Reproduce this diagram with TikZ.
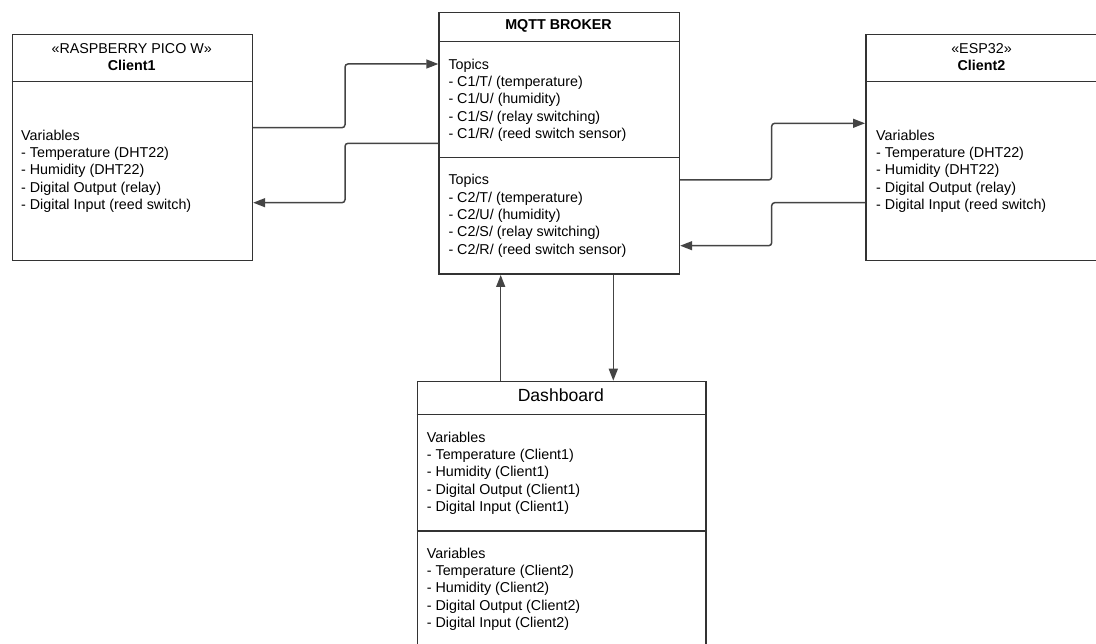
\documentclass[tikz,border=0pt]{standalone}
\usepackage{fontspec}
\setmainfont{Liberation Sans}
\usetikzlibrary{arrows.meta}
\definecolor{edge}{HTML}{333333}
\definecolor{wirecol}{HTML}{444444}
\begin{document}
\begin{tikzpicture}[x=1pt,y=-1pt,
  box/.style={draw=edge, line width=1.5pt, rectangle, inner sep=0pt, anchor=north west},
  sep/.style={draw=edge, line width=1.5pt},
  body/.style={anchor=north west, inner sep=0pt, align=left, font=\fontsize{14.3}{17.3}\selectfont},
  head/.style={inner sep=0pt, align=center, font=\fontsize{14.3}{17.3}\selectfont},
  wire/.style={draw=wirecol, line width=1.5pt, rounded corners=3pt, -{Triangle[length=12pt,width=9pt]}}
]
\useasboundingbox (0,0) rectangle (1096,644);

% class boxes
\node[box, minimum width=240pt, minimum height=226pt] (c1) at (11.7,34) {};
\node[box, minimum width=240.4pt, minimum height=261.5pt] (broker) at (438.3,12) {};
\node[box, minimum width=245pt, minimum height=226pt] (c2) at (865,34) {};
\node[box, minimum width=288.3pt, minimum height=280pt] (dash) at (416.7,380.7) {};

% compartment separators
\draw[sep] (c1.west |- 0,81.7) -- (c1.east |- 0,81.7);
\draw[sep] (c2.west |- 0,81.7) -- (c2.east |- 0,81.7);
\draw[sep] (broker.west |- 0,41.7) -- (broker.east |- 0,41.7);
\draw[sep] (broker.west |- 0,157.3) -- (broker.east |- 0,157.3);
\draw[sep] (dash.west |- 0,414.3) -- (dash.east |- 0,414.3);
\draw[sep] (dash.west |- 0,531) -- (dash.east |- 0,531);

% headers
\node[head] (c1h) at (131.7,57.3) {«RASPBERRY PICO W»\\\textbf{Client1}};
\node[head] (c2h) at (981.5,57.3) {«ESP32»\\\textbf{Client2}};
\node[head] (bh) at (558.5,25.5) {\textbf{MQTT BROKER}};
\node[inner sep=0pt, font=\fontsize{17.6}{20}\selectfont] (dh) at (560.8,395.5) {Dashboard};

% compartment texts
\node[body] (c1v) at (21,129.8) {Variables\\- Temperature (DHT22)\\- Humidity (DHT22)\\- Digital Output (relay)\\- Digital Input (reed switch)};
\node[body] (c2v) at (876,129.8) {Variables\\- Temperature (DHT22)\\- Humidity (DHT22)\\- Digital Output (relay)\\- Digital Input (reed switch)};
\node[body] (bt1) at (448.3,58.8) {Topics\\- C1/T/ (temperature)\\- C1/U/ (humidity)\\- C1/S/ (relay switching)\\- C1/R/ (reed switch sensor)};
\node[body] (bt2) at (448.3,174.3) {Topics\\- C2/T/ (temperature)\\- C2/U/ (humidity)\\- C2/S/ (relay switching)\\- C2/R/ (reed switch sensor)};
\node[body] (dv1) at (426.7,431.7) {Variables\\- Temperature (Client1)\\- Humidity (Client1)\\- Digital Output (Client1)\\- Digital Input (Client1)};
\node[body] (dv2) at (426.7,547.7) {Variables\\- Temperature (Client2)\\- Humidity (Client2)\\- Digital Output (Client2)\\- Digital Input (Client2)};

% connectors
\draw[wire] (c1.east |- 0,127.7) -| (345,64) -- (broker.west |- 0,64);
\draw[wire] (broker.west |- 0,143.3) -| (345,202.7) -- (c1.east |- 0,202.7);
\draw[wire] (broker.east |- 0,180) -| (771.7,123.3) -- (c2.west |- 0,123.3);
\draw[wire] (c2.west |- 0,202.7) -| (771.7,245.7) -- (broker.east |- 0,245.7);
\draw[wire] (dash.north -| 500.7,0) -- (broker.south -| 500.7,0);
\draw[wire] (broker.south -| 613.3,0) -- (dash.north -| 613.3,0);
\end{tikzpicture}
\end{document}
